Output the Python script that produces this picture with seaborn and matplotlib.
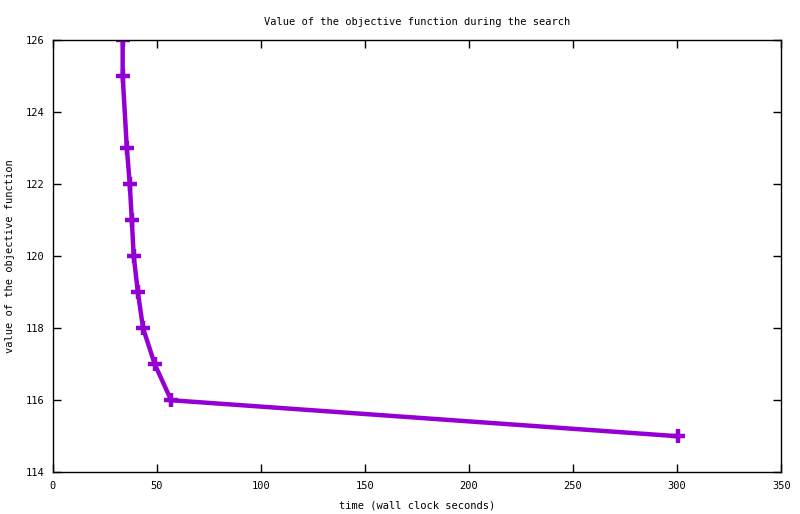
import matplotlib
matplotlib.use("Agg")
import matplotlib.pyplot as plt
import seaborn as sns
import pandas as pd

# values
time_s = [33.6, 33.6, 35.6, 37.0, 38.0, 38.9, 40.9, 43.4, 49.0, 56.9, 300.5]
objective = [126, 125, 123, 122, 121, 120, 119, 118, 117, 116, 115]
x_ticks = [0, 50, 100, 150, 200, 250, 300, 350]
y_ticks = [114, 116, 118, 120, 122, 124, 126]

LINE_COLOR = "#9400d3"

df = pd.DataFrame({"time": time_s, "value": objective})

sns.set_style("white")
plt.rcParams["font.family"] = ["DejaVu Sans Mono"]
plt.rcParams["text.color"] = "black"
plt.rcParams["axes.labelcolor"] = "black"
plt.rcParams["xtick.color"] = "black"
plt.rcParams["ytick.color"] = "black"

fig = plt.figure(figsize=(8, 5.14), dpi=100)
ax = fig.add_axes([0.0659, 0.0811, 0.9107, 0.8415])

sns.lineplot(data=df, x="time", y="value", ax=ax, color=LINE_COLOR,
             linewidth=3.2, marker="+", markersize=10, markeredgewidth=3.2,
             markeredgecolor=LINE_COLOR, sort=False, estimator=None)

ax.set_xlim(0, 350)
ax.set_ylim(114, 126)
ax.set_xticks(x_ticks)
ax.set_yticks(y_ticks)
ax.tick_params(direction="in", length=6, width=1, labelsize=7.5,
               top=True, right=True, bottom=True, left=True, pad=6)
for s in ax.spines.values():
    s.set_visible(True)
    s.set_color("black")
    s.set_linewidth(1)

ax.set_xlabel("time (wall clock seconds)", fontsize=7.5, labelpad=7)
ax.set_ylabel("value of the objective function", fontsize=7.5, labelpad=8)
ax.set_title("Value of the objective function during the search", fontsize=7.5, pad=11)

fig.savefig("out.png", dpi=100)
